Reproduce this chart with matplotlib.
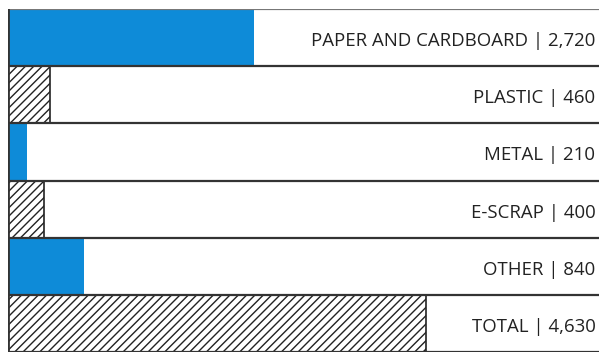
import matplotlib.pyplot as plt

categories = ['PAPER AND CARDBOARD', 'PLASTIC', 'METAL', 'E-SCRAP', 'OTHER', 'TOTAL']
values = [2720, 460, 210, 400, 840, 4630]
value_labels = ['2,720', '460', '210', '400', '840', '4,630']
hatched = [False, True, False, True, False, True]

BLUE = '#0e8bd8'
LINE = '#333333'

plt.rcParams['font.family'] = ['Open Sans', 'DejaVu Sans']
plt.rcParams['hatch.linewidth'] = 1.0

fig = plt.figure(figsize=(5.99, 3.52), dpi=100)
ax = fig.add_axes([8 / 599, 0, 1 - 8 / 599, 1 - 9 / 352])

# total bar reaches about x=426 px of the 599 px picture
xmax = values[-1] * (591 / 418)
ax.set_xlim(0, xmax)
ax.set_ylim(len(categories), 0)

for i, (cat, val, lab, h) in enumerate(zip(categories, values, value_labels, hatched)):
    if h:
        ax.barh(i, val, height=1, align='edge', color='white',
                edgecolor='#222222', hatch='////', linewidth=1.2, zorder=2)
    else:
        ax.barh(i, val, height=1, align='edge', color=BLUE, linewidth=0, zorder=2)
    ax.text(xmax * 0.994, i + 0.65, '{} | {}'.format(cat, lab),
            ha='right', va='baseline', fontsize=13.4, color='#222222', zorder=3)

for i in range(len(categories) + 1):
    c = '#777777' if i == 0 else LINE
    ax.axhline(i, color=c, linewidth=1.6, zorder=4)
ax.axvline(0, color=LINE, linewidth=2, zorder=4)

for s in ax.spines.values():
    s.set_visible(False)
ax.set_xticks([])
ax.set_yticks([])

fig.savefig('out.png', dpi=100)
